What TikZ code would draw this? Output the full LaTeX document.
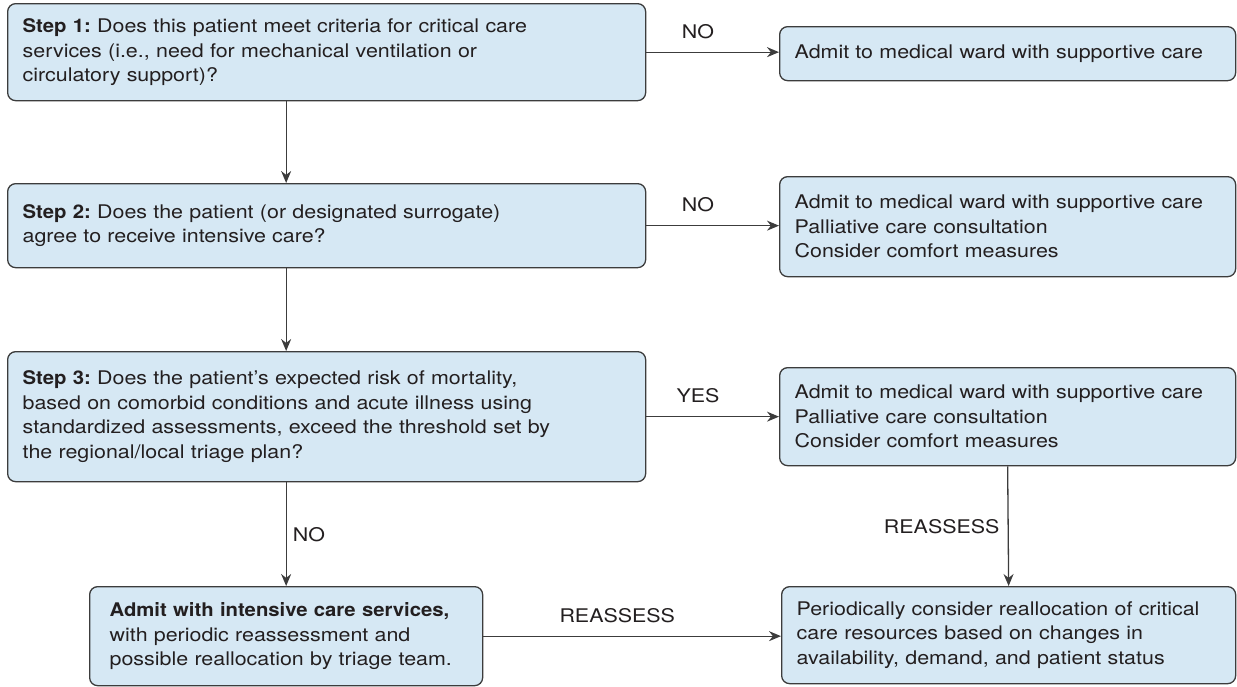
\documentclass[tikz,border=0pt]{standalone}
\usepackage{fontspec}
\setmainfont{TeX Gyre Heros}[FakeStretch=1.14, BoldFeatures={FakeStretch=1.08}]
\usetikzlibrary{arrows.meta}
\definecolor{boxfill}{HTML}{D6E8F4}
\definecolor{boxline}{HTML}{3C3C3C}
\definecolor{inktext}{HTML}{231F20}
\tikzset{
  stepbox/.style={draw=boxline, fill=boxfill, line width=0.65pt, rounded corners=4pt,
    anchor=north west, align=left, inner xsep=7.5pt, inner ysep=0pt, text=inktext,
    minimum width=319pt, text width=304pt,
    font=\fontsize{9.4}{12.3}\selectfont\frenchspacing},
  wardbox/.style={stepbox, minimum width=228pt, text width=213pt},
  arr/.style={draw=boxline, line width=0.65pt, -{Stealth[length=6pt,width=5pt]}},
  lbl/.style={text=inktext, font=\fontsize{9.4}{12.3}\selectfont, inner sep=2pt}
}
\begin{document}
\begin{tikzpicture}[x=0.5pt,y=-0.5pt]
\useasboundingbox (0,0) rectangle (1237,686);
% left column: the three steps
\node[stepbox, minimum height=48.5pt] (step1) at (7,3)
  {\textbf{Step 1:} Does this patient meet criteria for critical care\\services (i.e., need for mechanical ventilation or\\circulatory support)?};
\node[stepbox, minimum height=42pt] (step2) at (7,183)
  {\textbf{Step 2:} Does the patient (or designated surrogate)\\agree to receive intensive care?};
\node[stepbox, minimum height=65pt] (step3) at (7,351)
  {\textbf{Step 3:} Does the patient’s expected risk of mortality,\\based on comorbid conditions and acute illness using\\standardized assessments, exceed the threshold set by\\the regional/local triage plan?};
\node[stepbox, inner xsep=10pt, minimum width=196.5pt, minimum height=49.5pt, text width=176.5pt] (icu) at (89,586)
  {\textbf{Admit with intensive care services,}\\with periodic reassessment and\\possible reallocation by triage team.};
% right column: outcomes
\node[wardbox, minimum height=27pt] (ward1) at (779,26)
  {Admit to medical ward with supportive care};
\node[wardbox, minimum height=50pt] (ward2) at (779,176)
  {Admit to medical ward with supportive care\\Palliative care consultation\\Consider comfort measures};
\node[wardbox, minimum height=49pt] (ward3) at (779,367)
  {Admit to medical ward with supportive care\\Palliative care consultation\\Consider comfort measures};
\node[wardbox, minimum width=227pt, text width=212pt, minimum height=48.5pt] (realloc) at (781,586)
  {Periodically consider reallocation of critical\\care resources based on changes in\\availability, demand, and patient status};
% connectors
\draw[arr] (step1.south -| icu.north) -- (step2.north -| icu.north);
\draw[arr] (step2.south -| icu.north) -- (step3.north -| icu.north);
\draw[arr] (step3.south -| icu.north) -- (icu.north) node[lbl, right=1pt, midway] {NO};
\draw[arr] (step1.east) -- (step1.east -| ward1.west) node[lbl, above=4.5pt, pos=0.39] {NO};
\draw[arr] (step2.east) -- (step2.east -| ward2.west) node[lbl, above=4.5pt, pos=0.39] {NO};
\draw[arr] (step3.east) -- (step3.east -| ward3.west) node[lbl, above=4.5pt, pos=0.39] {YES};
\draw[arr] (ward3.south) -- (realloc.north) node[lbl, left=2pt, midway] {REASSESS};
\draw[arr] (icu.east) -- (icu.east -| realloc.west) node[lbl, above=4.5pt, pos=0.45] {REASSESS};
\end{tikzpicture}
\end{document}
